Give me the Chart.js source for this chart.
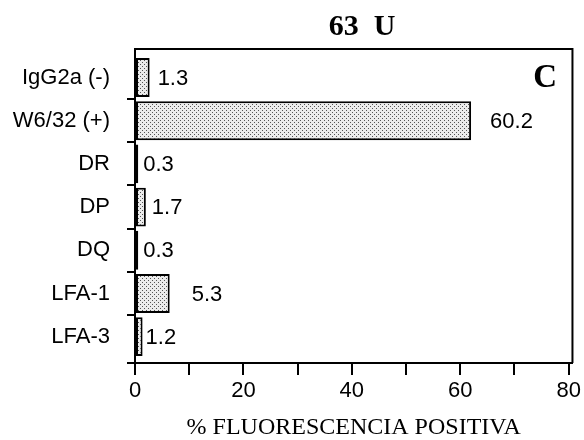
<!DOCTYPE html>
<html>
<head>
<meta charset="utf-8">
<script src="https://cdn.jsdelivr.net/npm/chart.js@4.4.1/dist/chart.umd.min.js"></script>
<style>
  html, body { margin: 0; padding: 0; background: #fff; }
  canvas { display: block; }
</style>
</head>
<body>
<canvas id="chart" width="584" height="440"></canvas>
<script>
const categories = ["IgG2a (-)", "W6/32 (+)", "DR", "DP", "DQ", "LFA-1", "LFA-3"];
const barValues = [2.7, 62.0, 0.6, 2.0, 0.6, 6.4, 1.4];
const valueLabels = ["1.3", "60.2", "0.3", "1.7", "0.3", "5.3", "1.2"];
const xTicks = [0, 10, 20, 30, 40, 50, 60, 70, 80];
const xLabelled = [0, 20, 40, 60, 80];

// gap between bar end and its printed value, as in the figure
const labelGaps = [8, 19, 5, 6, 5, 22, 3];

const SANS = '"Liberation Sans", Arial, sans-serif';
const SERIF = '"Liberation Serif", "Times New Roman", serif';

// stippled fill
const makeStipple = () => {
  const c = document.createElement("canvas");
  c.width = 4;
  c.height = 4;
  const g = c.getContext("2d");
  g.fillStyle = "#ececec";
  g.fillRect(0, 0, 4, 4);
  g.fillStyle = "#555";
  g.fillRect(0, 0, 1, 1);
  g.fillRect(2, 2, 1, 1);
  return g.createPattern(c, "repeat");
};

const figureDecor = {
  id: "figureDecor",
  afterDraw(chart) {
    const { ctx, chartArea: a, scales } = chart;
    const y = scales.y;
    ctx.save();
    ctx.strokeStyle = "#000";
    ctx.lineWidth = 2;
    // top and right frame, bottom-left stub
    ctx.beginPath();
    ctx.moveTo(a.left, a.top);
    ctx.lineTo(a.right, a.top);
    ctx.lineTo(a.right, a.bottom);
    ctx.moveTo(a.left - 8, a.bottom);
    ctx.lineTo(a.left, a.bottom);
    // category boundary ticks
    for (let i = 0; i < categories.length - 1; i++) {
      const py = Math.round(y.getPixelForValue(i + 0.5));
      ctx.moveTo(a.left - 8, py);
      ctx.lineTo(a.left, py);
    }
    ctx.stroke();

    // printed values
    const meta = chart.getDatasetMeta(0);
    ctx.fillStyle = "#000";
    ctx.font = "22px " + SANS;
    ctx.textAlign = "left";
    ctx.textBaseline = "middle";
    meta.data.forEach((bar, i) => {
      ctx.fillText(valueLabels[i], bar.x + labelGaps[i], bar.y + 1);
    });

    // title and panel letter
    ctx.textBaseline = "alphabetic";
    ctx.font = "bold 30px " + SERIF;
    ctx.textAlign = "center";
    ctx.fillText("63  U", 362, 35);
    ctx.font = "bold 33px " + SERIF;
    ctx.textAlign = "right";
    ctx.fillText("C", 557, 87);
    ctx.restore();
  },
};

new Chart(document.getElementById("chart"), {
  type: "bar",
  data: {
    datasets: [
      {
        data: barValues.map((v, i) => ({ x: v, y: i })),
        backgroundColor: makeStipple(),
        borderColor: "#000",
        borderWidth: 2,
        borderSkipped: false,
        barPercentage: 0.9,
        categoryPercentage: 1,
      },
    ],
  },
  options: {
    indexAxis: "y",
    responsive: false,
    animation: false,
    layout: { padding: { top: 49, right: 11, left: 0, bottom: 0 } },
    plugins: {
      legend: { display: false },
      tooltip: { enabled: false },
    },
    scales: {
      x: {
        type: "linear",
        min: 0,
        max: 80.7,
        afterBuildTicks: (s) => {
          s.ticks = xTicks.map((v) => ({ value: v }));
        },
        afterFit: (s) => {
          s.height = 77;
        },
        grid: {
          drawOnChartArea: false,
          tickLength: 12,
          color: "#000",
          lineWidth: 2,
        },
        border: { display: true, color: "#000", width: 2 },
        ticks: {
          autoSkip: false,
          maxRotation: 0,
          padding: 3,
          color: "#000",
          font: { family: SANS, size: 22 },
          callback: (v) => (xLabelled.includes(v) ? String(v) : ""),
        },
        title: {
          display: true,
          text: "% FLUORESCENCIA POSITIVA",
          color: "#000",
          font: { family: SERIF, size: 24, lineHeight: 1 },
          padding: 0,
        },
      },
      y: {
        type: "linear",
        reverse: true,
        offset: false,
        min: -0.66,
        max: 6.61,
        afterBuildTicks: (s) => {
          s.ticks = categories.map((_, i) => ({ value: i }));
        },
        afterFit: (s) => {
          s.width = 135;
        },
        grid: { display: false },
        border: { display: true, color: "#000", width: 2 },
        ticks: {
          autoSkip: false,
          padding: 17,
          color: "#000",
          font: { family: SANS, size: 22 },
          callback: (v) => categories[v] ?? "",
        },
      },
    },
  },
  plugins: [figureDecor],
});
</script>
</body>
</html>
